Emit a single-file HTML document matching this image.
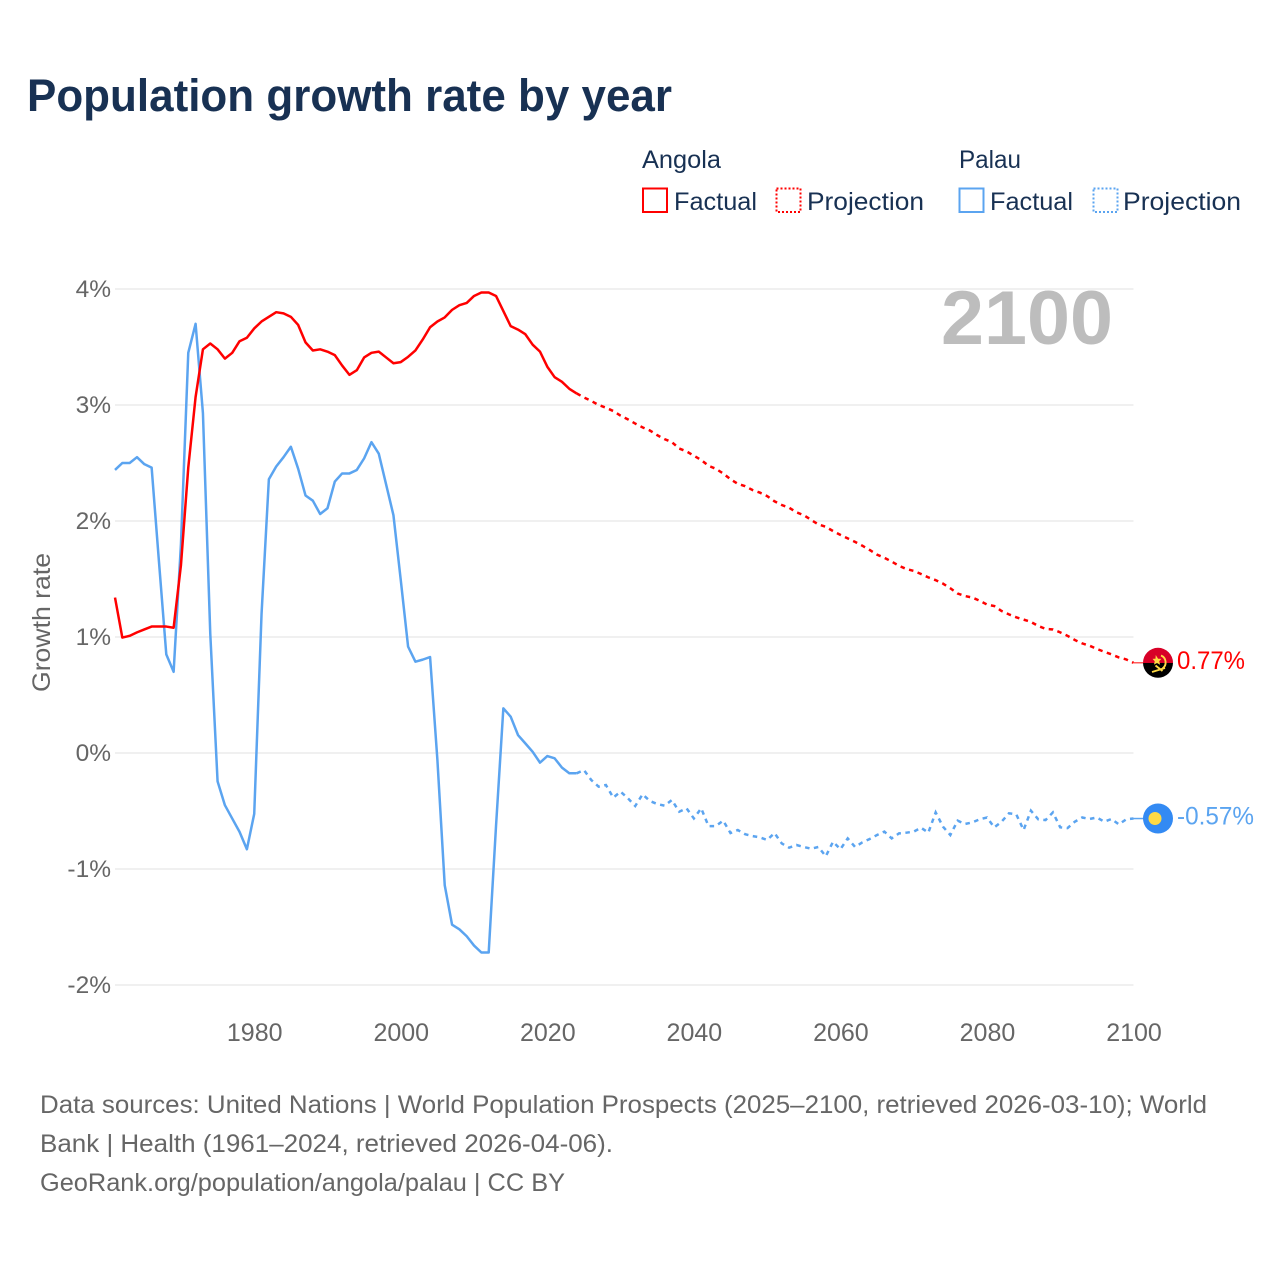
<!DOCTYPE html>
<html lang="en">
<head>
<meta charset="utf-8">
<title>Population growth rate by year</title>
<style>
html,body{margin:0;padding:0;background:#fff;}
svg{display:block;font-family:"Liberation Sans",sans-serif;}
</style>
</head>
<body>
<svg id="chart" xmlns="http://www.w3.org/2000/svg" width="1280" height="1280" viewBox="0 0 1280 1280">
  <rect x="0" y="0" width="1280" height="1280" fill="#fff"/>
  <text x="27" y="111" font-size="45" font-weight="700" fill="#183153" textLength="645" lengthAdjust="spacingAndGlyphs">Population growth rate by year</text>

  <g font-size="25" fill="#183153">
    <text x="642" y="168" textLength="79" lengthAdjust="spacingAndGlyphs">Angola</text>
    <text x="959" y="168" textLength="62" lengthAdjust="spacingAndGlyphs">Palau</text>
    <g>
      <rect x="643" y="188.5" width="24" height="23.5" fill="#fff" stroke="#ff0000" stroke-width="2"/>
      <text x="674" y="210" textLength="83" lengthAdjust="spacingAndGlyphs">Factual</text>
    </g>
    <g>
      <rect x="776.5" y="188.5" width="24" height="23.5" fill="#fff" stroke="#ff0000" stroke-width="2" stroke-dasharray="2 2"/>
      <text x="807" y="210" textLength="117" lengthAdjust="spacingAndGlyphs">Projection</text>
    </g>
    <g>
      <rect x="959.5" y="188.5" width="24" height="23.5" fill="#fff" stroke="#5ba4f0" stroke-width="2"/>
      <text x="990" y="210" textLength="83" lengthAdjust="spacingAndGlyphs">Factual</text>
    </g>
    <g>
      <rect x="1093.5" y="188.5" width="24" height="23.5" fill="#fff" stroke="#5ba4f0" stroke-width="2" stroke-dasharray="2 2"/>
      <text x="1123" y="210" textLength="118" lengthAdjust="spacingAndGlyphs">Projection</text>
    </g>
  </g>

  <g id="grid"></g>
  <g id="yticks"></g>
  <g id="xticks"></g>
  <text transform="translate(50,622.5) rotate(-90)" text-anchor="middle" font-size="25" fill="#666666" textLength="139" lengthAdjust="spacingAndGlyphs">Growth rate</text>
  <text x="1113" y="344" text-anchor="end" font-size="76" font-weight="700" fill="#bdbdbd" textLength="172" lengthAdjust="spacingAndGlyphs">2100</text>

  <g id="series"></g>

  <g>
    <clipPath id="flagClip"><circle cx="1158" cy="662.8" r="15"/></clipPath>
    <g clip-path="url(#flagClip)">
      <rect x="1143" y="647" width="31" height="16" fill="#d80027"/>
      <rect x="1143" y="663" width="31" height="16" fill="#000000"/>
      <path d="M1161 655.5a7.5 7.5 0 0 1 1.5 13M1152 672l13-4M1155.5 665.5l7 5.5M1156.5 658l1 1.6 1.8.1-1.2 1.3.5 1.8-1.6-.9-1.6.9.4-1.8-1.2-1.3 1.8-.1z" fill="none" stroke="#ffda44" stroke-width="1.9"/>
    </g>
  </g>
  <g>
    <circle cx="1158" cy="818.5" r="15" fill="#338af3"/>
    <circle cx="1155" cy="818.5" r="6.5" fill="#ffda44"/>
  </g>
  <text x="1177" y="669" font-size="25" fill="#ff0000" textLength="68" lengthAdjust="spacingAndGlyphs">0.77%</text>
  <text x="1177" y="824.5" font-size="25" fill="#5ba4f0" textLength="77" lengthAdjust="spacingAndGlyphs">-0.57%</text>

  <g font-size="25" fill="#666666">
    <text x="40" y="1113" textLength="1167" lengthAdjust="spacingAndGlyphs">Data sources: United Nations | World Population Prospects (2025–2100, retrieved 2026-03-10); World</text>
    <text x="40" y="1152" textLength="573" lengthAdjust="spacingAndGlyphs">Bank | Health (1961–2024, retrieved 2026-04-06).</text>
    <text x="40" y="1191" textLength="525" lengthAdjust="spacingAndGlyphs">GeoRank.org/population/angola/palau | CC BY</text>
  </g>
</svg>
<script>
const firstFactualYear = 1961;
const firstProjectionYear = 2025;
const yTickValues = [4, 3, 2, 1, 0, -1, -2];
const yTickLabels = ["4%", "3%", "2%", "1%", "0%", "-1%", "-2%"];
const xTickYears = [1980, 2000, 2020, 2040, 2060, 2080, 2100];
const xTickLabels = ["1980", "2000", "2020", "2040", "2060", "2080", "2100"];
const angolaFactual = [
  1.34,0.995,1.01,1.04,1.065,1.09,1.09,1.09,1.08,1.62,
  2.46,3.07,3.48,3.53,3.48,3.40,3.45,3.55,3.58,3.66,
  3.72,3.76,3.80,3.79,3.76,3.69,3.54,3.47,3.48,3.46,
  3.43,3.34,3.26,3.30,3.41,3.45,3.46,3.41,3.36,3.37,
  3.415,3.47,3.565,3.67,3.72,3.755,3.82,3.86,3.88,3.94,
  3.97,3.97,3.94,3.81,3.68,3.65,3.61,3.52,3.46,3.33,
  3.24,3.20,3.14,3.10
];
const angolaProjection = [
  3.065,3.035,3.0,2.977,2.948,2.908,2.876,2.84,2.807,2.78,
  2.74,2.706,2.68,2.625,2.60,2.563,2.526,2.476,2.45,2.41,
  2.36,2.32,2.30,2.267,2.245,2.215,2.17,2.138,2.115,2.075,
  2.05,2.01,1.97,1.95,1.913,1.88,1.85,1.82,1.787,1.75,
  1.71,1.683,1.65,1.614,1.586,1.57,1.543,1.514,1.49,1.46,
  1.42,1.375,1.353,1.34,1.313,1.28,1.267,1.224,1.195,1.17,
  1.15,1.13,1.095,1.07,1.065,1.04,1.01,0.974,0.945,0.925,
  0.897,0.873,0.85,0.824,0.807,0.778
];
const palauFactual = [
  2.44,2.50,2.50,2.55,2.49,2.46,1.65,0.85,0.70,1.80,
  3.45,3.70,2.93,1.03,-0.245,-0.45,-0.565,-0.68,-0.83,-0.525,
  1.2,2.36,2.47,2.55,2.64,2.45,2.22,2.175,2.06,2.11,
  2.34,2.41,2.41,2.44,2.54,2.68,2.58,2.315,2.05,1.49,
  0.917,0.787,0.805,0.827,-0.06,-1.14,-1.48,-1.52,-1.58,-1.66,
  -1.72,-1.72,-0.63,0.385,0.313,0.155,0.083,0.01,-0.083,-0.026,
  -0.046,-0.126,-0.175,-0.175
];
const palauProjection = [
  -0.147,-0.233,-0.29,-0.276,-0.385,-0.333,-0.39,-0.457,-0.356,-0.414,
  -0.44,-0.454,-0.405,-0.506,-0.477,-0.564,-0.477,-0.63,-0.63,-0.583,
  -0.69,-0.664,-0.70,-0.716,-0.727,-0.75,-0.69,-0.78,-0.816,-0.793,
  -0.81,-0.825,-0.81,-0.89,-0.765,-0.83,-0.736,-0.81,-0.77,-0.741,
  -0.707,-0.678,-0.736,-0.693,-0.687,-0.678,-0.644,-0.687,-0.512,-0.635,
  -0.707,-0.583,-0.612,-0.598,-0.572,-0.556,-0.641,-0.592,-0.52,-0.529,
  -0.664,-0.497,-0.572,-0.578,-0.512,-0.641,-0.647,-0.592,-0.556,-0.569,
  -0.556,-0.592,-0.569,-0.615,-0.572,-0.565
];

const SVG_NS = "http://www.w3.org/2000/svg";
function xScale(year) { return 115 + (year - 1961) * (1133.5 - 115) / (2100 - 1961); }
function yScale(value) { return 753 - value * 116; }

const gridGroup = document.getElementById("grid");
const yTickGroup = document.getElementById("yticks");
const xTickGroup = document.getElementById("xticks");
const seriesGroup = document.getElementById("series");

yTickValues.forEach(function (value, i) {
  const line = document.createElementNS(SVG_NS, "line");
  line.setAttribute("x1", 115);
  line.setAttribute("x2", 1133.5);
  line.setAttribute("y1", yScale(value));
  line.setAttribute("y2", yScale(value));
  line.setAttribute("stroke", "#ececec");
  line.setAttribute("stroke-width", "1.5");
  
  
  gridGroup.appendChild(line);

  const label = document.createElementNS(SVG_NS, "text");
  label.setAttribute("x", 111);
  label.setAttribute("y", yScale(value) + 8);
  label.setAttribute("text-anchor", "end");
  label.setAttribute("font-size", "24.5");
  label.setAttribute("fill", "#666666");
  
  
  label.textContent = yTickLabels[i];
  yTickGroup.appendChild(label);
});

xTickYears.forEach(function (year, i) {
  const label = document.createElementNS(SVG_NS, "text");
  label.setAttribute("x", xScale(year) + 0.5);
  label.setAttribute("y", 1041);
  label.setAttribute("text-anchor", "middle");
  label.setAttribute("font-size", "25");
  label.setAttribute("fill", "#666666");
  
  
  label.textContent = xTickLabels[i];
  xTickGroup.appendChild(label);
});

function pointsFrom(values, startYear) {
  return values.map(function (v, i) {
    return xScale(startYear + i).toFixed(2) + "," + yScale(v).toFixed(2);
  }).join(" ");
}

function drawFactual(values, color, name) {
  const line = document.createElementNS(SVG_NS, "polyline");
  line.setAttribute("points", pointsFrom(values, firstFactualYear));
  line.setAttribute("fill", "none");
  line.setAttribute("stroke", color);
  line.setAttribute("stroke-width", "2.5");
  line.setAttribute("stroke-linejoin", "round");
  
  
  seriesGroup.appendChild(line);
}

function drawProjection(values, lastFactual, color, name) {
  const joined = [lastFactual].concat(values);
  const line = document.createElementNS(SVG_NS, "polyline");
  line.setAttribute("points", pointsFrom(joined, firstProjectionYear - 1));
  line.setAttribute("fill", "none");
  line.setAttribute("stroke", color);
  line.setAttribute("stroke-width", "2.5");
  line.setAttribute("stroke-dasharray", "4.5 4.5");
  
  
  seriesGroup.appendChild(line);
}

function drawConnector(lastValue, color, name) {
  const line = document.createElementNS(SVG_NS, "line");
  line.setAttribute("x1", xScale(2100));
  line.setAttribute("x2", 1144);
  line.setAttribute("y1", yScale(lastValue));
  line.setAttribute("y2", yScale(lastValue));
  line.setAttribute("stroke", color);
  line.setAttribute("stroke-width", "1.5");
  
  
  seriesGroup.appendChild(line);
}

drawFactual(palauFactual, "#5ba4f0", "palau-factual-line");
drawProjection(palauProjection, palauFactual[palauFactual.length - 1], "#5ba4f0", "palau-projection-line");
drawConnector(palauProjection[palauProjection.length - 1], "#5ba4f0", "palau-end-connector");
drawFactual(angolaFactual, "#ff0000", "angola-factual-line");
drawProjection(angolaProjection, angolaFactual[angolaFactual.length - 1], "#ff0000", "angola-projection-line");
drawConnector(angolaProjection[angolaProjection.length - 1], "#ff5a5a", "angola-end-connector");
</script>
</body>
</html>
